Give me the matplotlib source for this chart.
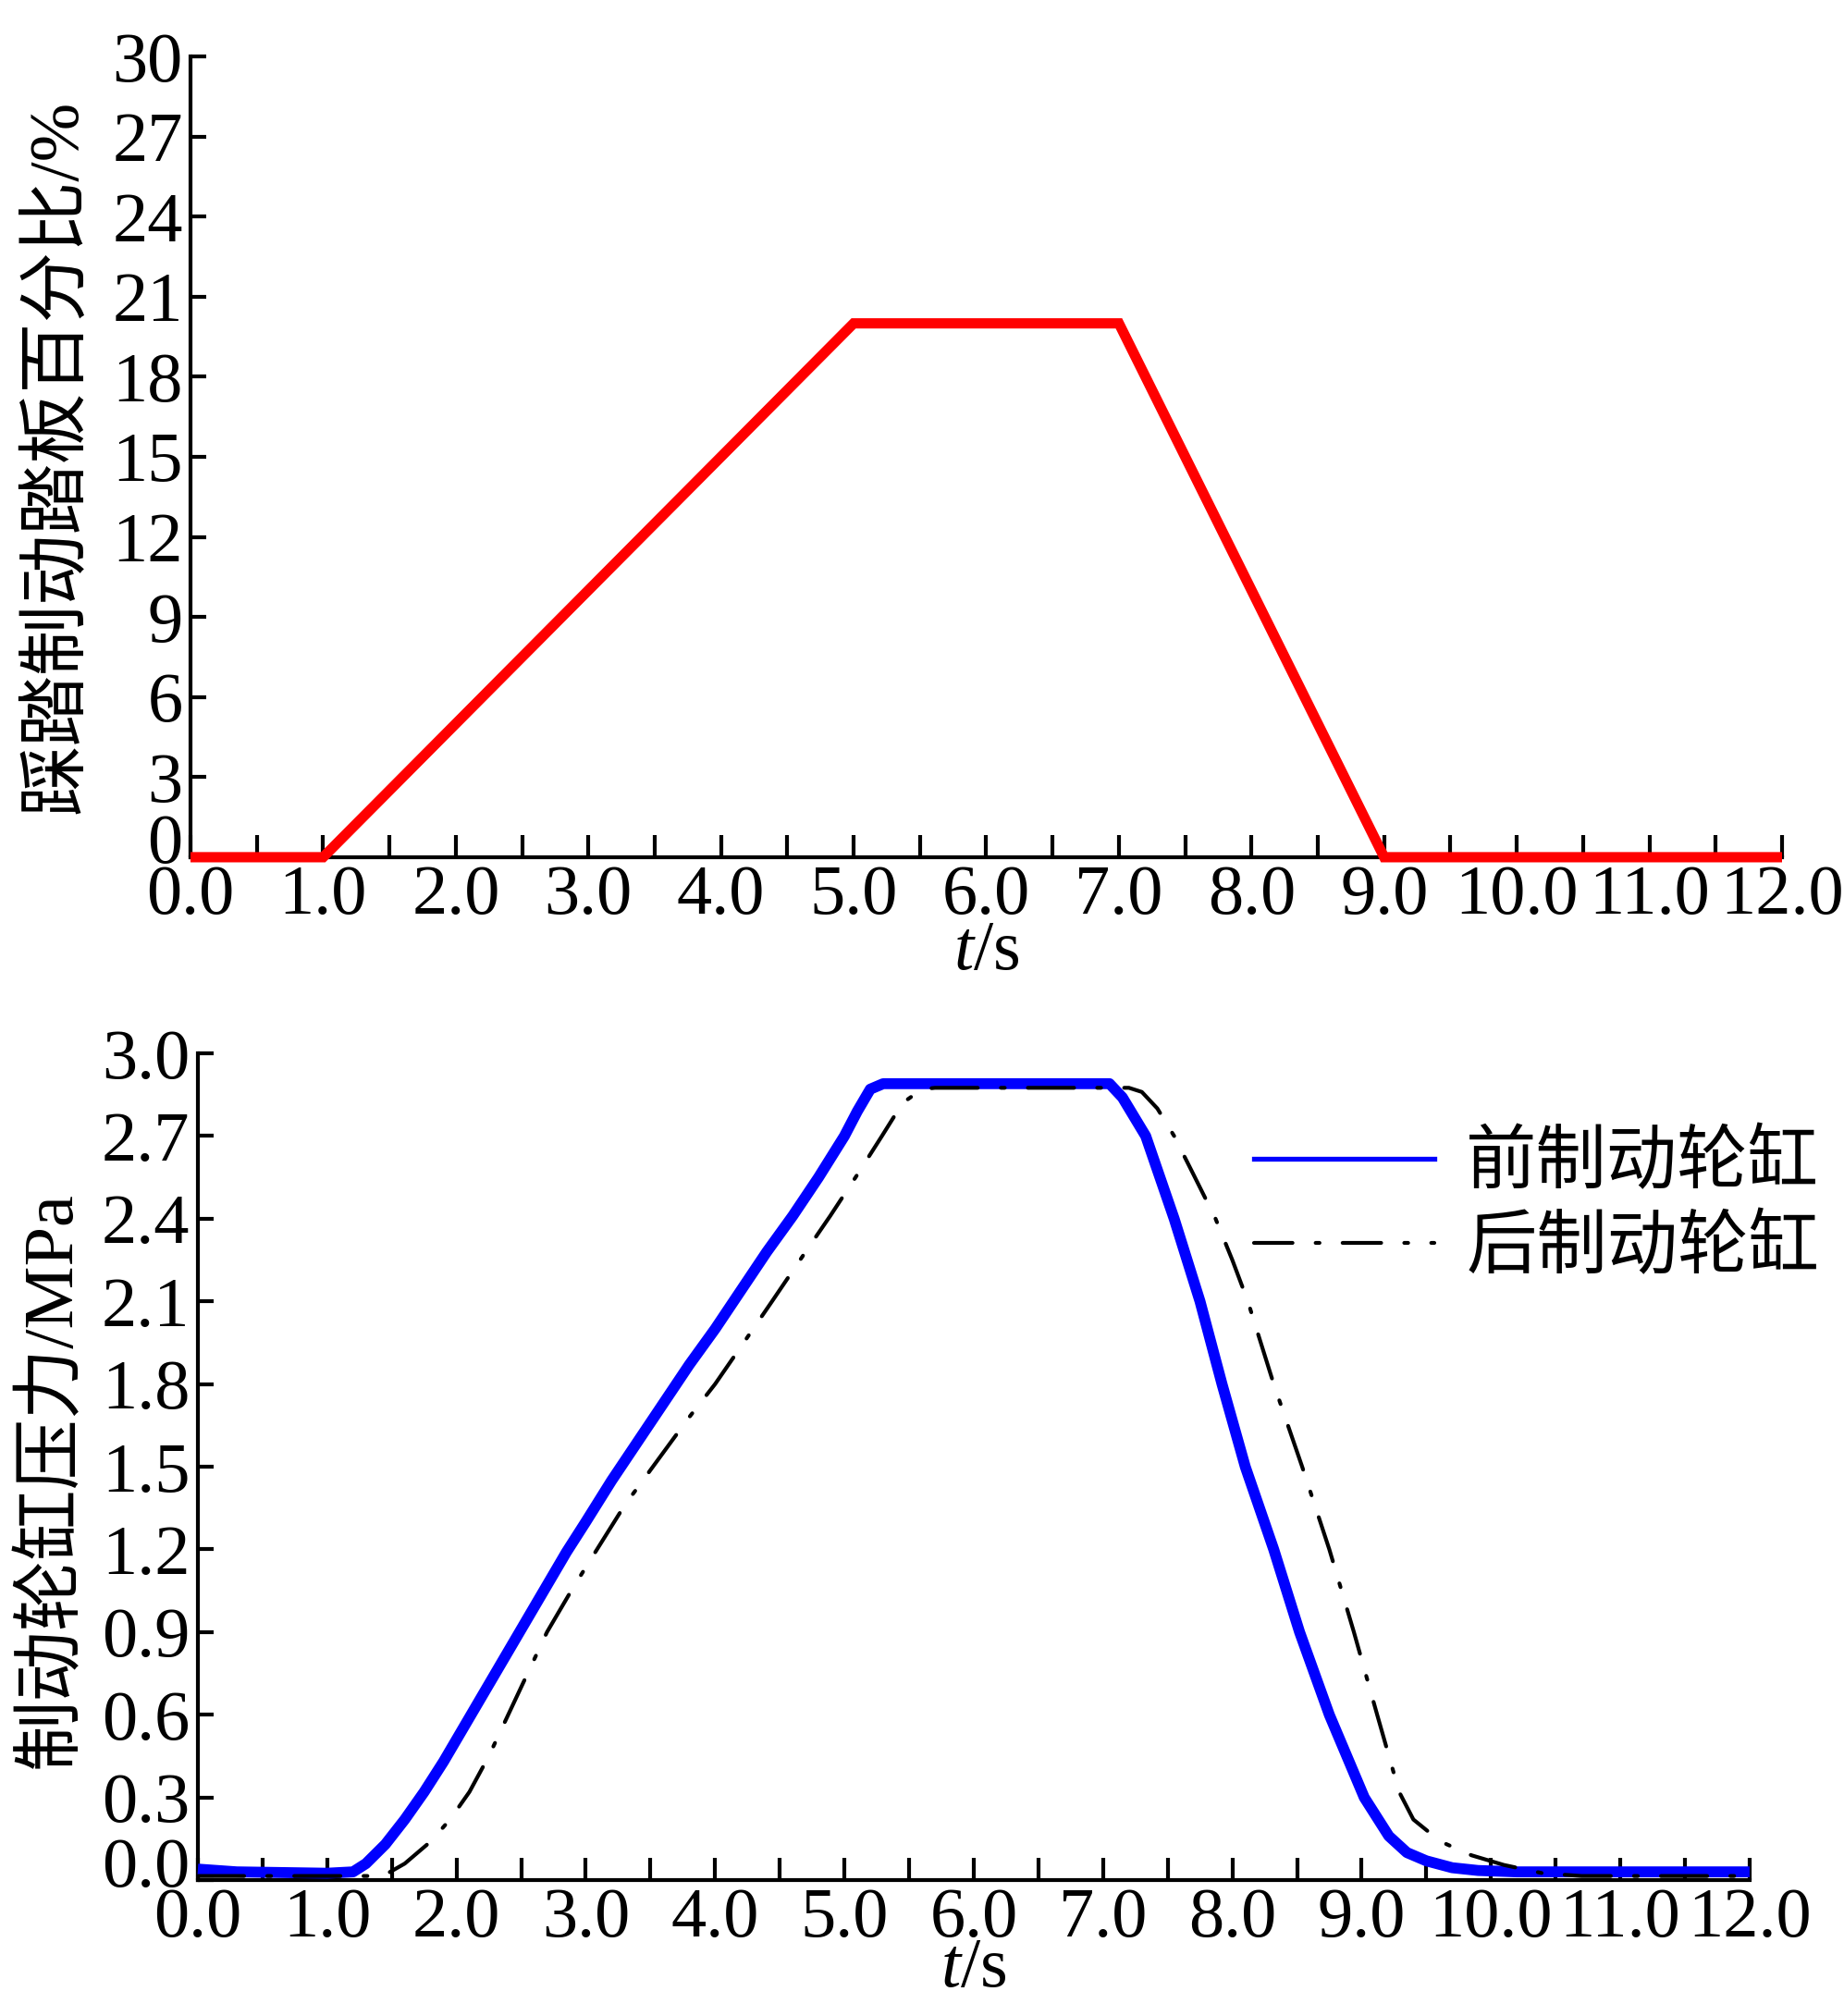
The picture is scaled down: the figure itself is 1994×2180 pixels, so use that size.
import matplotlib
matplotlib.use("Agg")
import matplotlib.pyplot as plt
from matplotlib.lines import Line2D
import matplotlib.transforms as mtransforms

# ---------------- data ----------------
pedal_t = [0.0, 1.0, 5.0, 7.0, 9.0, 12.0]
pedal_pct = [0.0, 0.0, 20.0, 20.0, 0.0, 0.0]

front_t = [0.0, 0.3, 1.0, 1.2, 1.3, 1.45, 1.6, 1.75, 1.9, 2.1, 2.3, 2.5, 2.7, 2.85,
           3.0, 3.2, 3.4, 3.6, 3.8, 4.0, 4.2, 4.4, 4.6, 4.8, 5.0, 5.1, 5.2, 5.3,
           7.05, 7.15, 7.33, 7.55, 7.75, 7.92, 8.10, 8.32, 8.52, 8.75, 9.02, 9.21,
           9.35, 9.5, 9.7, 9.9, 10.2, 12.0]
front_p = [0.04, 0.03, 0.025, 0.03, 0.06, 0.13, 0.22, 0.32, 0.43, 0.59, 0.75, 0.91, 1.07, 1.19,
           1.30, 1.45, 1.59, 1.73, 1.87, 2.00, 2.14, 2.28, 2.41, 2.55, 2.70, 2.79, 2.87, 2.89,
           2.89, 2.84, 2.70, 2.40, 2.10, 1.80, 1.50, 1.20, 0.90, 0.60, 0.30, 0.16,
           0.10, 0.07, 0.045, 0.035, 0.03, 0.03]

rear_t = [0.0, 1.0, 1.35, 1.45, 1.6, 1.8, 1.95, 2.1, 2.25, 2.4, 2.55, 2.7, 2.9, 3.1, 3.3,
          3.55, 3.8, 4.0, 4.25, 4.44, 4.7, 4.89, 5.1, 5.29, 5.45, 5.6, 5.7, 7.2, 7.3,
          7.42, 7.55, 7.7, 7.87, 8.0, 8.12, 8.32, 8.54, 8.75, 8.94, 9.12, 9.29, 9.4,
          9.61, 9.85, 10.1, 10.4, 10.7, 12.0]
rear_p = [0.015, 0.015, 0.015, 0.02, 0.06, 0.14, 0.22, 0.32, 0.45, 0.60, 0.75, 0.90, 1.06, 1.21, 1.36,
          1.52, 1.68, 1.80, 1.97, 2.10, 2.28, 2.41, 2.56, 2.70, 2.82, 2.87, 2.875, 2.875, 2.86,
          2.80, 2.70, 2.56, 2.40, 2.25, 2.10, 1.80, 1.50, 1.20, 0.90, 0.60, 0.32, 0.22,
          0.14, 0.09, 0.055, 0.025, 0.015, 0.015]

x_ticks = [0, 1, 2, 3, 4, 5, 6, 7, 8, 9, 10, 11, 12]
x_ticklabels = ["0.0", "1.0", "2.0", "3.0", "4.0", "5.0", "6.0", "7.0", "8.0", "9.0",
                "10.0", "11.0", "12.0"]
top_yticks = [0, 3, 6, 9, 12, 15, 18, 21, 24, 27, 30]
bot_yticks = [0.0, 0.3, 0.6, 0.9, 1.2, 1.5, 1.8, 2.1, 2.4, 2.7, 3.0]

top_ylabel = "踩踏制动踏板百分比/%"
bot_ylabel = "制动轮缸压力/MPa"
legend_labels = ["前制动轮缸", "后制动轮缸"]

# ---------------- style ----------------
FAM = ["Liberation Serif", "Noto Sans CJK SC"]
plt.rcParams["font.family"] = FAM
plt.rcParams["mathtext.fontset"] = "custom"
plt.rcParams["mathtext.rm"] = "Liberation Serif"
plt.rcParams["mathtext.it"] = "Liberation Serif:italic"
FS = 55

fig = plt.figure(figsize=(19.94, 21.8), dpi=100)
ax1 = fig.add_axes([0.1033, 0.5748, 0.8631, 0.3972])
ax2 = fig.add_axes([0.1073, 0.0674, 0.8415, 0.4101])


def style(ax):
    for s in ["top", "right"]:
        ax.spines[s].set_visible(False)
    for s in ["left", "bottom"]:
        ax.spines[s].set_linewidth(3)
        ax.spines[s].set_zorder(2)
    ax.set_xlim(0, 12)
    ax.set_xticks(x_ticks)
    ax.set_xticklabels(x_ticklabels)
    ax.set_xticks([v + 0.5 for v in x_ticks[:-1]], minor=True)
    ax.tick_params(axis="x", which="both", direction="in", length=17, width=3,
                   labelsize=FS, pad=6)
    ax.tick_params(axis="y", which="both", direction="in", length=12, width=3,
                   labelsize=FS, pad=6)
    ax.set_xlabel(r"$\it{t}$/s", fontsize=FS)
    ax.xaxis.label.set_va("center")


def shift_first_ylabel(ax):
    lbl = ax.get_yticklabels()[0]
    off = mtransforms.ScaledTranslation(0, 20 / 100, fig.dpi_scale_trans)
    lbl.set_transform(lbl.get_transform() + off)


# ---- top ----
style(ax1)
ax1.set_ylim(0, 30)
ax1.set_yticks(top_yticks)
ax1.set_yticklabels([str(v) for v in top_yticks])
ax1.plot(pedal_t, pedal_pct, color="#ff0000", lw=8, solid_joinstyle="miter",
         solid_capstyle="butt", clip_on=False, zorder=3)
ax1.set_ylabel(top_ylabel, fontsize=FS)
ax1.yaxis.label.set_va("center")
ax1.yaxis.set_label_coords(-0.083, 0.5)
ax1.xaxis.set_label_coords(0.5, -0.118)
shift_first_ylabel(ax1)

# ---- bottom ----
style(ax2)
ax2.set_ylim(0, 3.0)
ax2.set_yticks(bot_yticks)
ax2.set_yticklabels(["%.1f" % v for v in bot_yticks])
ax2.plot(front_t, front_p, color="#0000ff", lw=8.5, solid_joinstyle="round",
         solid_capstyle="butt", clip_on=False, zorder=3)
ax2.plot(rear_t, rear_p, color="black", lw=3, linestyle=(0, (12, 6, 1, 6)),
         dash_capstyle="round", clip_on=False, zorder=4)
ax2.set_ylabel(bot_ylabel, fontsize=FS)
ax2.yaxis.label.set_va("center")
ax2.yaxis.set_label_coords(-0.094, 0.484)
ax2.xaxis.set_label_coords(0.5, -0.108)
shift_first_ylabel(ax2)

handles = [Line2D([], [], color="#0000ff", lw=3.8),
           Line2D([], [], color="black", lw=3, linestyle=(0, (10, 6, 1, 6)),
                  dash_capstyle="round")]
ax2.legend(handles, legend_labels, loc="upper left", bbox_to_anchor=(0.680, 0.439),
           bbox_transform=fig.transFigure, frameon=False, borderpad=0,
           borderaxespad=0, handlelength=2.55, handletextpad=0.45,
           labelspacing=0.25, prop={"family": FAM, "size": FS})

fig.savefig("out.png", dpi=100, facecolor="white")
